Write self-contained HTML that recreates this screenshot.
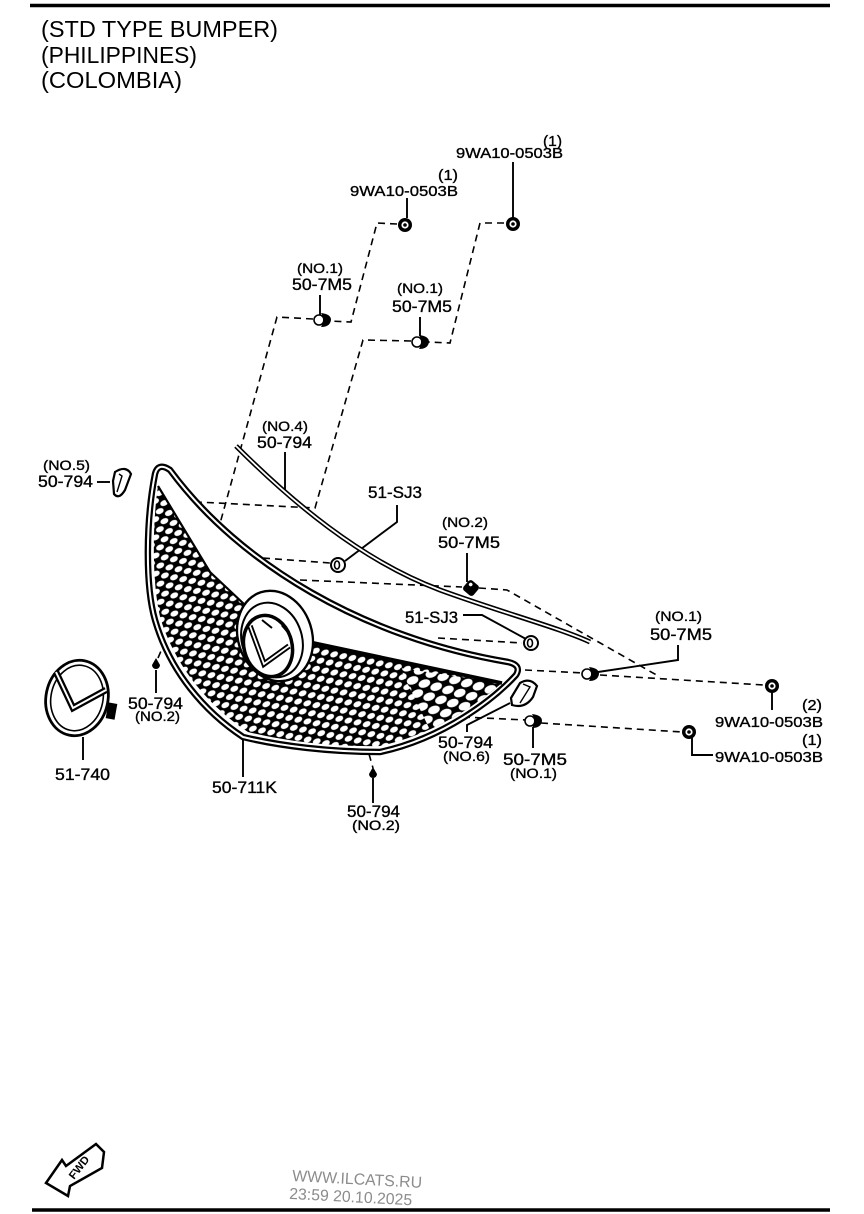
<!DOCTYPE html>
<html><head><meta charset="utf-8"><style>
html,body{margin:0;padding:0;background:#fff;width:864px;height:1214px;overflow:hidden}
svg{display:block}
text{font-family:"Liberation Sans",sans-serif;fill:#000}
.lb text{stroke:#000;stroke-width:0.35}
</style></head><body>
<svg width="864" height="1214" viewBox="0 0 864 1214" xmlns="http://www.w3.org/2000/svg">
<defs>
<pattern id="mesh" patternUnits="userSpaceOnUse" width="15" height="11" patternTransform="rotate(-25)">
<rect width="15" height="11" fill="#000"/>
<ellipse cx="3.75" cy="2.75" rx="4.1" ry="2.75" fill="#fff"/>
<ellipse cx="11.25" cy="8.25" rx="4.1" ry="2.75" fill="#fff"/>
<ellipse cx="18.75" cy="2.75" rx="4.1" ry="2.75" fill="#fff"/>
<ellipse cx="-3.75" cy="8.25" rx="4.1" ry="2.75" fill="#fff"/>
<ellipse cx="3.75" cy="13.75" rx="4.1" ry="2.75" fill="#fff"/>
<ellipse cx="11.25" cy="-2.75" rx="4.1" ry="2.75" fill="#fff"/>
</pattern>
<pattern id="mesh2" patternUnits="userSpaceOnUse" width="20" height="14" patternTransform="rotate(-20)">
<rect width="20" height="14" fill="#000"/>
<ellipse cx="5" cy="3.5" rx="6" ry="4" fill="#fff"/>
<ellipse cx="15" cy="10.5" rx="6" ry="4" fill="#fff"/>
<ellipse cx="25" cy="3.5" rx="6" ry="4" fill="#fff"/>
<ellipse cx="-5" cy="10.5" rx="6" ry="4" fill="#fff"/>
<ellipse cx="5" cy="17.5" rx="6" ry="4" fill="#fff"/>
<ellipse cx="15" cy="-3.5" rx="6" ry="4" fill="#fff"/>
</pattern>
<clipPath id="meshclip">
<path d="M158,486 L210,572 L245,605 L300,640 C370,655 440,670 502,683 C470,710 430,735 380,746 C330,747 285,741 248,732 C210,707 176,668 161,620 C152,588 152,525 158,486 Z"/>
</clipPath>
</defs>

<!-- border lines -->
<line x1="30" y1="5.5" x2="830" y2="5.5" stroke="#000" stroke-width="3.5"/>
<line x1="32" y1="1210" x2="830" y2="1210" stroke="#000" stroke-width="3.5"/>

<!-- titles -->
<text x="41" y="37" font-size="23" textLength="237" lengthAdjust="spacingAndGlyphs">(STD TYPE BUMPER)</text>
<text x="41" y="63" font-size="23" textLength="156" lengthAdjust="spacingAndGlyphs">(PHILIPPINES)</text>
<text x="41" y="88" font-size="23" textLength="141" lengthAdjust="spacingAndGlyphs">(COLOMBIA)</text>

<!-- dashed lines -->
<g fill="none" stroke="#000" stroke-width="1.6" stroke-dasharray="7 5">
<polyline points="397,224 377,223 351,322 329,321"/>
<polyline points="313,319 277,317 208,567"/>
<polyline points="504,223 480,223 450,343 428,342"/>
<polyline points="411,341 363,340 315,508 197,502"/>
<line x1="263" y1="558" x2="330" y2="563"/>
<line x1="300" y1="580" x2="462" y2="587"/>
<polyline points="479,588 507,590 660,677"/>
<line x1="525" y1="670" x2="583" y2="673"/>
<line x1="600" y1="675" x2="764" y2="685"/>
<line x1="438" y1="638" x2="522" y2="643"/>
<line x1="463" y1="717" x2="526" y2="720"/>
<line x1="541" y1="723" x2="682" y2="732"/>
<line x1="158" y1="658" x2="164" y2="644"/>
<line x1="369" y1="754" x2="373" y2="768"/>
</g>

<!-- leaders -->
<g fill="none" stroke="#000" stroke-width="1.9">
<line x1="513" y1="162" x2="513" y2="218"/>
<line x1="407" y1="198" x2="407" y2="218"/>
<line x1="320" y1="295" x2="320" y2="315"/>
<line x1="420" y1="317" x2="420" y2="336"/>
<line x1="285" y1="452" x2="285" y2="492"/>
<polyline points="397,505 397,522 345,561"/>
<line x1="467" y1="553" x2="467" y2="582"/>
<polyline points="463,615 482,615 526,639"/>
<polyline points="678,645 678,660 598,672"/>
<line x1="772" y1="692" x2="772" y2="710"/>
<polyline points="510,703 467,725 467,732"/>
<line x1="533" y1="727" x2="533" y2="748"/>
<polyline points="692,738 692,755 713,755"/>
<line x1="97" y1="482" x2="110" y2="482"/>
<line x1="83" y1="737" x2="83" y2="760"/>
<line x1="156" y1="670" x2="156" y2="693"/>
<line x1="243" y1="740" x2="243" y2="777"/>
<line x1="373" y1="778" x2="373" y2="803"/>
</g>

<!-- grille -->
<path d="M155,474 Q158,462 170,470 C240,565 365,638 508,662 Q522,665 516,675 C495,698 445,738 380,752 C330,752 280,746 243,737 C205,712 170,672 155,620 C145,585 146,520 155,474 Z" fill="#fff"/>
<rect x="140" y="460" width="380" height="300" fill="url(#mesh)" clip-path="url(#meshclip)"/>
<path d="M400,668 L502,683 C480,702 455,718 430,730 Z" fill="url(#mesh2)" clip-path="url(#meshclip)"/>
<path d="M158,486 L210,572 L245,605" fill="none" stroke="#000" stroke-width="2.2"/>
<path d="M300,640 C370,655 440,670 502,683" fill="none" stroke="#000" stroke-width="3.5"/>
<!-- ring & emblem -->
<ellipse cx="275" cy="636" rx="37" ry="46" fill="#fff" stroke="#000" stroke-width="2.4" transform="rotate(-18 275 636)"/>
<ellipse cx="272" cy="640" rx="30" ry="38" fill="#fff" stroke="#000" stroke-width="2" transform="rotate(-18 272 640)"/>
<ellipse cx="268" cy="646" rx="24" ry="31" fill="#fff" stroke="#000" stroke-width="3.5" transform="rotate(-15 268 646)"/>
<path d="M250,626 L264,664 L289,646" fill="none" stroke="#000" stroke-width="5.5"/>
<path d="M250,626 L264,664 L289,646" fill="none" stroke="#fff" stroke-width="1.8"/>
<path d="M262,620 L272,628" stroke="#000" stroke-width="2"/>
<path d="M282,625 L288,632" stroke="#000" stroke-width="2.5"/>
<!-- outline double -->
<path d="M155,474 Q158,462 170,470 C240,565 365,638 508,662 Q522,665 516,675 C495,698 445,738 380,752 C330,752 280,746 243,737 C205,712 170,672 155,620 C145,585 146,520 155,474 Z" fill="none" stroke="#000" stroke-width="6.5"/>
<path d="M155,474 Q158,462 170,470 C240,565 365,638 508,662 Q522,665 516,675 C495,698 445,738 380,752 C330,752 280,746 243,737 C205,712 170,672 155,620 C145,585 146,520 155,474 Z" fill="none" stroke="#fff" stroke-width="2"/>

<!-- strip NO.4 -->
<path d="M236,446 C290,500 360,560 440,590 C500,612 560,628 590,642" fill="none" stroke="#000" stroke-width="5"/>
<path d="M236,446 C290,500 360,560 440,590 C500,612 560,628 590,642" fill="none" stroke="#fff" stroke-width="1.8"/>

<!-- nuts 9WA10-0503B -->
<g fill="#000">
<g transform="translate(513,224)"><circle r="7"/><circle r="3.6" fill="#fff"/><circle r="1.8"/></g>
<g transform="translate(405,225)"><circle r="7"/><circle r="3.6" fill="#fff"/><circle r="1.8"/></g>
<g transform="translate(772,686)"><circle r="7"/><circle r="3.6" fill="#fff"/><circle r="1.8"/></g>
<g transform="translate(689,732)"><circle r="7"/><circle r="3.6" fill="#fff"/><circle r="1.8"/></g>
</g>

<!-- clips 50-7M5 -->
<g>
<g transform="translate(322,320)"><circle cx="-3" r="5" fill="#fff" stroke="#000" stroke-width="1.6"/><path d="M-1,-7 Q9,-6 9,0 Q8,7 -1,7 Q3,0 -1,-7Z" fill="#000"/></g>
<g transform="translate(420,342)"><circle cx="-3" r="5" fill="#fff" stroke="#000" stroke-width="1.6"/><path d="M-1,-7 Q9,-6 9,0 Q8,7 -1,7 Q3,0 -1,-7Z" fill="#000"/></g>
<g transform="translate(590,674)"><circle cx="-3" r="5" fill="#fff" stroke="#000" stroke-width="1.6"/><path d="M-1,-7 Q9,-6 9,0 Q8,7 -1,7 Q3,0 -1,-7Z" fill="#000"/></g>
<g transform="translate(533,721)"><circle cx="-3" r="5" fill="#fff" stroke="#000" stroke-width="1.6"/><path d="M-1,-7 Q9,-6 9,0 Q8,7 -1,7 Q3,0 -1,-7Z" fill="#000"/></g>
<g transform="translate(471,588) rotate(40)"><rect x="-6.5" y="-6.5" width="13" height="13" rx="3" fill="#000"/><circle cx="-2.5" cy="-2.5" r="1.8" fill="#fff"/></g>
</g>

<!-- SJ3 clips -->
<g transform="translate(338,565)"><circle r="7" fill="#fff" stroke="#000" stroke-width="2"/><ellipse cx="-1" rx="2.5" ry="4" fill="none" stroke="#000" stroke-width="1.6"/></g>
<g transform="translate(531,643)"><circle r="7" fill="#fff" stroke="#000" stroke-width="2"/><ellipse cx="-1" rx="2.5" ry="4" fill="none" stroke="#000" stroke-width="1.6"/></g>

<!-- small fasteners NO.2 -->
<path d="M152,665 a4,4 0 1,0 8,0 L156,658Z" fill="#000"/>
<path d="M369,774 a4,4 0 1,0 8,0 L373,767Z" fill="#000"/>

<!-- NO.5 piece -->
<path d="M115,472 Q126,465 131,474 L125,490 Q119,500 114,494 L113,481 Z" fill="#fff" stroke="#000" stroke-width="2.2"/>
<path d="M119,474 L122,476 L117,492" fill="none" stroke="#000" stroke-width="1.4"/>
<!-- NO.6 piece -->
<path d="M511,698 L520,683 Q530,677 537,686 L533,697 Q525,709 512,705 Z" fill="#fff" stroke="#000" stroke-width="2.2"/>
<path d="M523,684 L530,687 L520,703" fill="none" stroke="#000" stroke-width="1.4"/>

<!-- emblem 51-740 -->
<ellipse cx="77" cy="698" rx="31" ry="38" fill="#fff" stroke="#000" stroke-width="2.8" transform="rotate(12 77 698)"/>
<ellipse cx="77" cy="698" rx="26" ry="33" fill="none" stroke="#000" stroke-width="1.6" transform="rotate(12 77 698)"/>
<path d="M56,672 L73,708 L106,690" fill="none" stroke="#000" stroke-width="6.5"/>
<path d="M56,672 L73,708 L106,690" fill="none" stroke="#fff" stroke-width="2"/>
<rect x="107" y="703" width="9" height="16" fill="#000" transform="rotate(10 111 711)"/>

<!-- FWD arrow -->
<path d="M46,1183 L62,1160 L66,1166 L96,1144 L104,1152 L102,1168 L70,1186 L68,1196 Z" fill="#fff" stroke="#000" stroke-width="2.5" stroke-linejoin="miter"/>
<text x="0" y="0" font-size="11" font-weight="bold" transform="translate(74,1180) rotate(-52)" textLength="26" lengthAdjust="spacingAndGlyphs">FWD</text>

<!-- watermark -->
<g transform="rotate(3 292 1180)">
<text x="292" y="1181" font-size="16" style="fill:#8c8c8c" textLength="130" lengthAdjust="spacingAndGlyphs">WWW.ILCATS.RU</text>
<text x="290" y="1199" font-size="16" style="fill:#8c8c8c" textLength="123" lengthAdjust="spacingAndGlyphs">23:59 20.10.2025</text>
</g>

<!-- labels -->
<g class="lb">
<text x="543" y="146" font-size="15" textLength="19" lengthAdjust="spacingAndGlyphs">(1)</text>
<text x="456" y="158" font-size="15" textLength="107" lengthAdjust="spacingAndGlyphs">9WA10-0503B</text>
<text x="438" y="180" font-size="15" textLength="20" lengthAdjust="spacingAndGlyphs">(1)</text>
<text x="350" y="196" font-size="15" textLength="108" lengthAdjust="spacingAndGlyphs">9WA10-0503B</text>
<text x="297" y="273" font-size="14" textLength="46" lengthAdjust="spacingAndGlyphs">(NO.1)</text>
<text x="292" y="290" font-size="17" textLength="60" lengthAdjust="spacingAndGlyphs">50-7M5</text>
<text x="397" y="293" font-size="14" textLength="46" lengthAdjust="spacingAndGlyphs">(NO.1)</text>
<text x="392" y="312" font-size="17" textLength="60" lengthAdjust="spacingAndGlyphs">50-7M5</text>
<text x="262" y="431" font-size="14" textLength="46" lengthAdjust="spacingAndGlyphs">(NO.4)</text>
<text x="257" y="448" font-size="17" textLength="55" lengthAdjust="spacingAndGlyphs">50-794</text>
<text x="368" y="498" font-size="17" textLength="54" lengthAdjust="spacingAndGlyphs">51-SJ3</text>
<text x="442" y="527" font-size="14" textLength="46" lengthAdjust="spacingAndGlyphs">(NO.2)</text>
<text x="438" y="548" font-size="17" textLength="62" lengthAdjust="spacingAndGlyphs">50-7M5</text>
<text x="405" y="623" font-size="17" textLength="53" lengthAdjust="spacingAndGlyphs">51-SJ3</text>
<text x="655" y="621" font-size="14" textLength="47" lengthAdjust="spacingAndGlyphs">(NO.1)</text>
<text x="650" y="640" font-size="17" textLength="62" lengthAdjust="spacingAndGlyphs">50-7M5</text>
<text x="43" y="470" font-size="14" textLength="47" lengthAdjust="spacingAndGlyphs">(NO.5)</text>
<text x="38" y="487" font-size="17" textLength="55" lengthAdjust="spacingAndGlyphs">50-794</text>
<text x="802" y="710" font-size="15" textLength="20" lengthAdjust="spacingAndGlyphs">(2)</text>
<text x="715" y="727" font-size="15" textLength="108" lengthAdjust="spacingAndGlyphs">9WA10-0503B</text>
<text x="128" y="709" font-size="17" textLength="55" lengthAdjust="spacingAndGlyphs">50-794</text>
<text x="135" y="721" font-size="14" textLength="45" lengthAdjust="spacingAndGlyphs">(NO.2)</text>
<text x="438" y="748" font-size="17" textLength="55" lengthAdjust="spacingAndGlyphs">50-794</text>
<text x="443" y="761" font-size="14" textLength="47" lengthAdjust="spacingAndGlyphs">(NO.6)</text>
<text x="503" y="765" font-size="17" textLength="64" lengthAdjust="spacingAndGlyphs">50-7M5</text>
<text x="510" y="778" font-size="14" textLength="47" lengthAdjust="spacingAndGlyphs">(NO.1)</text>
<text x="802" y="745" font-size="15" textLength="20" lengthAdjust="spacingAndGlyphs">(1)</text>
<text x="715" y="762" font-size="15" textLength="108" lengthAdjust="spacingAndGlyphs">9WA10-0503B</text>
<text x="55" y="780" font-size="17" textLength="55" lengthAdjust="spacingAndGlyphs">51-740</text>
<text x="212" y="793" font-size="17" textLength="65" lengthAdjust="spacingAndGlyphs">50-711K</text>
<text x="347" y="817" font-size="17" textLength="53" lengthAdjust="spacingAndGlyphs">50-794</text>
<text x="352" y="830" font-size="14" textLength="48" lengthAdjust="spacingAndGlyphs">(NO.2)</text>
</g>
</svg>
</body></html>
